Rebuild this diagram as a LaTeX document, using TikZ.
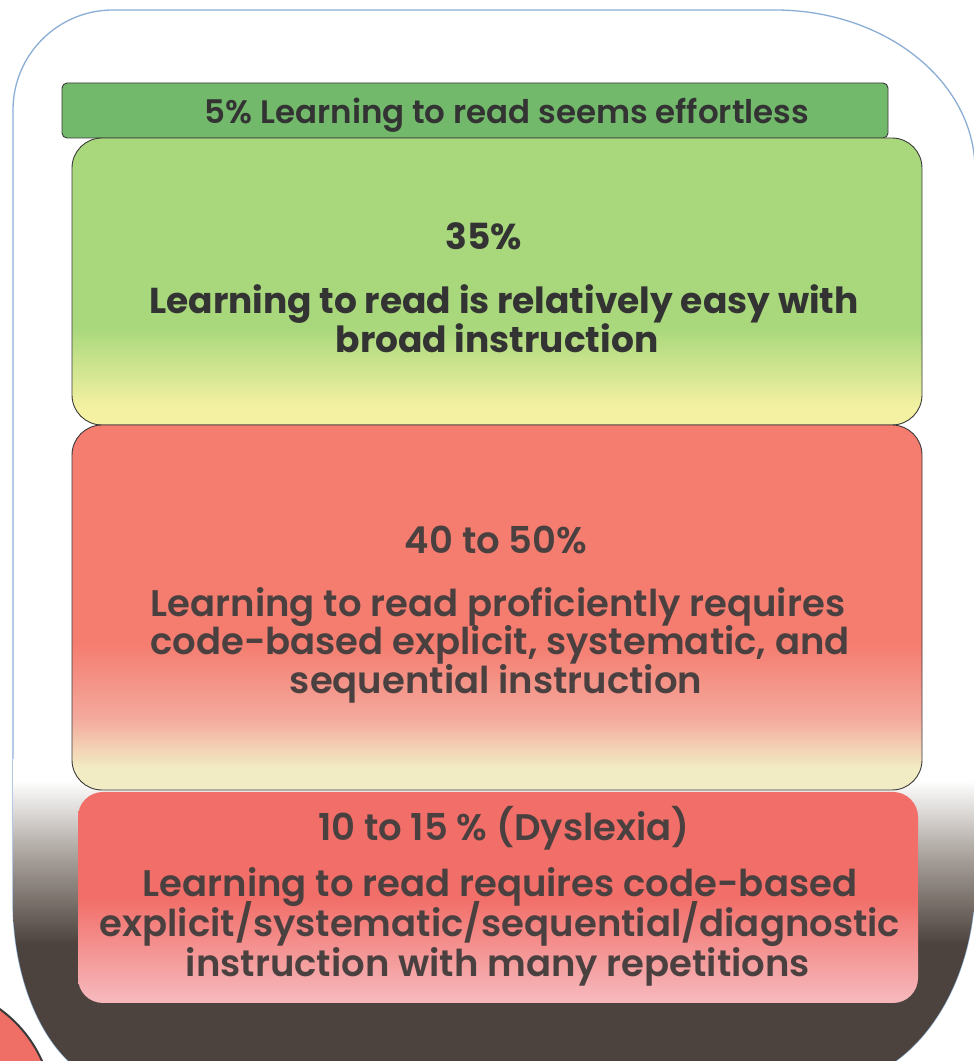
\documentclass[tikz,border=0pt]{standalone}
\usepackage{fontspec}
\setmainfont{Poppins}
\newfontfamily\popsemi{Poppins SemiBold}
\definecolor{grfive}{HTML}{72B96B}
\definecolor{grtop}{HTML}{A9D87C}
\definecolor{yelbot}{HTML}{F4F1A2}
\definecolor{redtop}{HTML}{F47D70}
\definecolor{pinkmid}{HTML}{F4A89C}
\definecolor{creambot}{HTML}{F2ECC4}
\definecolor{redlow}{HTML}{F26E68}
\definecolor{pinklow}{HTML}{F6B7BB}
\definecolor{txtdark}{HTML}{333333}
\definecolor{txtgrey}{HTML}{4A4040}
\definecolor{framec}{HTML}{8AAED6}
\definecolor{shdark}{HTML}{4D433E}
\definecolor{shmid}{HTML}{A29A94}
\definecolor{boxline}{HTML}{3A3A3A}
\definecolor{blobred}{HTML}{EF6E66}
\pgfdeclareverticalshading{shgy}{100bp}{color(0bp)=(yelbot); color(28bp)=(yelbot); color(42bp)=(grtop); color(100bp)=(grtop)}
\pgfdeclareverticalshading{shrc}{100bp}{color(0bp)=(creambot); color(28bp)=(creambot); color(35bp)=(pinkmid); color(45bp)=(redtop); color(100bp)=(redtop)}
\pgfdeclareverticalshading{shrp}{100bp}{color(0bp)=(pinklow); color(26bp)=(pinklow); color(50bp)=(redlow); color(100bp)=(redlow)}
\pgfdeclareverticalshading{shbase}{100bp}{color(0bp)=(shdark); color(48bp)=(shdark); color(60bp)=(shmid); color(72bp)=(white); color(100bp)=(white)}
\begin{document}
\begin{tikzpicture}[x=1pt,y=1pt,
  boxbase/.style={inner sep=0pt, outer sep=0pt, draw=boxline, line width=0.9pt},
  lineA/.style={anchor=base, inner sep=0pt, text=txtdark, font=\fontsize{36}{40}\selectfont\bfseries},
  lineB/.style={anchor=base, inner sep=0pt, text=txtgrey, font=\fontsize{37}{40}\popsemi},
  lineF/.style={anchor=base, inner sep=0pt, text=txtdark, font=\fontsize{32.5}{36}\popsemi}]
\useasboundingbox (0,0) rectangle (974,1061);
\fill[white] (0,0) rectangle (974,1061);
\def\framepath{(13,160) -- (13,951) arc[start angle=180,end angle=90,radius=100] -- (775,1051) arc[start angle=90,end angle=0,x radius=200,y radius=160] -- (975,180) arc[start angle=0,end angle=-90,x radius=150,y radius=204] -- (123,-24) arc[start angle=270,end angle=180,x radius=110,y radius=184] -- cycle}
\draw[framec, line width=1.3pt] \framepath;
\begin{scope}
  \clip \framepath;
  \shade[shading=shbase] (0,-40) rectangle (990,301);
\end{scope}
\filldraw[fill=blobred, draw=boxline, line width=2pt] (-75,-52) circle[radius=128];
% boxes
\node[boxbase, fill=grfive, rounded corners=5pt, minimum width=826pt, minimum height=55pt] (b5) at (475,950.5) {};
\node[boxbase, shading=shgy, rounded corners=30pt, minimum width=850pt, minimum height=287pt] (b35) at (497,779.5) {};
\node[boxbase, shading=shrc, rounded corners=30pt, minimum width=850pt, minimum height=365pt] (b40) at (497,453.5) {};
\node[boxbase, shading=shrp, draw=none, rounded corners=25pt, minimum width=840pt, minimum height=211pt] (b10) at (498,163.5) {};
% texts
\node[lineF] (t5) at (507,937) {5\% Learning to read seems effortless};
\node[lineA] (t35a) at (484,811.5) {35\%};
\node[lineA] (t35b) at (504,747) {Learning to read is relatively easy with};
\node[lineA] (t35c) at (497,708) {broad instruction};
\node[lineB] (t40a) at (496,507.5) {40 to 50\%};
\node[lineB] (t40b) at (498,444.5) {Learning to read proficiently requires};
\node[lineB] (t40c) at (500,406.5) {code-based explicit, systematic, and};
\node[lineB] (t40d) at (496,367.5) {sequential instruction};
\node[lineB] (t10a) at (504,220.5) {10 to 15 \% (Dyslexia)};
\node[lineB] (t10b) at (500,164.5) {Learning to read requires code-based};
\node[lineB] (t10c) at (500,124.5) {explicit/systematic/sequential/diagnostic};
\node[lineB] (t10d) at (498,84.5) {instruction with many repetitions};
\end{tikzpicture}
\end{document}
